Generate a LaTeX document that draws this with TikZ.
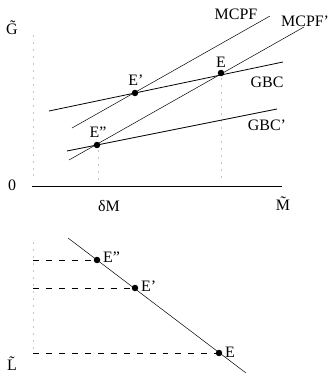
\documentclass[tikz,border=0pt]{standalone}
\usepackage{fontspec}
\setmainfont{Liberation Serif}
\begin{document}
\begin{tikzpicture}[x=1bp,y=-1bp,
  lbl/.style={font=\fontsize{16}{18}\selectfont,inner sep=0pt},
  curve/.style={line width=0.8pt},
  thin/.style={line width=0.5pt},
  dot/.style={circle,fill=black,inner sep=0pt,minimum size=6.5pt},
  guide/.style={gray!45,dash pattern=on 2pt off 5pt,line width=0.5pt},
  proj/.style={dash pattern=on 6pt off 7pt,line width=0.5pt}]
\useasboundingbox (0,0) rectangle (332,378);
% upper axes
\node[lbl] (G) at (12,28) {G̃};
\node[lbl] (zero) at (12,185) {0};
\coordinate (ax0) at (32,186);
\coordinate (ax1) at (282,186);
\draw[thin] (ax0) -- (ax1);
\node[lbl] (dM) at (109,206) {δM};
\node[lbl] (Mt) at (283,204) {M̃};
\coordinate (yt) at (33,35);
\coordinate (yb) at (33,180);
\draw[guide] (yt) -- (yb);
\coordinate (v1t) at (98,150);
\coordinate (v1b) at (98,182);
\draw[guide] (v1t) -- (v1b);
\coordinate (v2t) at (221,78);
\coordinate (v2b) at (221,182);
\draw[guide] (v2t) -- (v2b);
% points
\node[dot] (E) at (221,73) {};
\node[dot] (Ep) at (135,93) {};
\node[dot] (Epp) at (97,145) {};
% lines
\coordinate (gbc0) at (49,111);
\coordinate (gbc1) at (283,62);
\draw[curve] (gbc0) -- (gbc1);
\coordinate (gbcp0) at (67,151);
\coordinate (gbcp1) at (277,109);
\draw[curve] (gbcp0) -- (gbcp1);
\coordinate (m0) at (72,128);
\coordinate (m1) at (270,16);
\draw[thin] (m0) -- (m1);
\coordinate (mp0) at (69,160);
\coordinate (mp1) at (304,27);
\draw[thin] (mp0) -- (mp1);
% labels
\node[lbl] (lE) at (221,62) {E};
\node[lbl] (lEp) at (136,80) {E'};
\node[lbl] (lEpp) at (98,132) {E''};
\node[lbl] (lM) at (236,14) {MCPF};
\node[lbl,anchor=west] (lMp) at (281,21) {MCPF'};
\node[lbl] (lG) at (267,82) {GBC};
\node[lbl] (lGp) at (267,125) {GBC'};
% lower panel
\node[lbl] (L) at (12,364) {L̃};
\coordinate (lyt) at (33,242);
\coordinate (lyb) at (33,350);
\draw[guide] (lyt) -- (lyb);
\coordinate (l0) at (68,238);
\coordinate (l1) at (246,373);
\draw[thin] (l0) -- (l1);
\node[dot] (F) at (219,353) {};
\node[dot] (Fp) at (135,288) {};
\node[dot] (Fpp) at (97,260) {};
\coordinate (d1) at (33,260);
\coordinate (d2) at (33,288);
\coordinate (d3) at (33,353);
\draw[proj] (d1) -- (Fpp);
\draw[proj] (d2) -- (Fp);
\draw[proj] (d3) -- (F);
\node[lbl,anchor=west] (lF) at (225,352) {E};
\node[lbl,anchor=west] (lFp) at (141,286) {E'};
\node[lbl,anchor=west] (lFpp) at (103,257) {E''};
\end{tikzpicture}
\end{document}
